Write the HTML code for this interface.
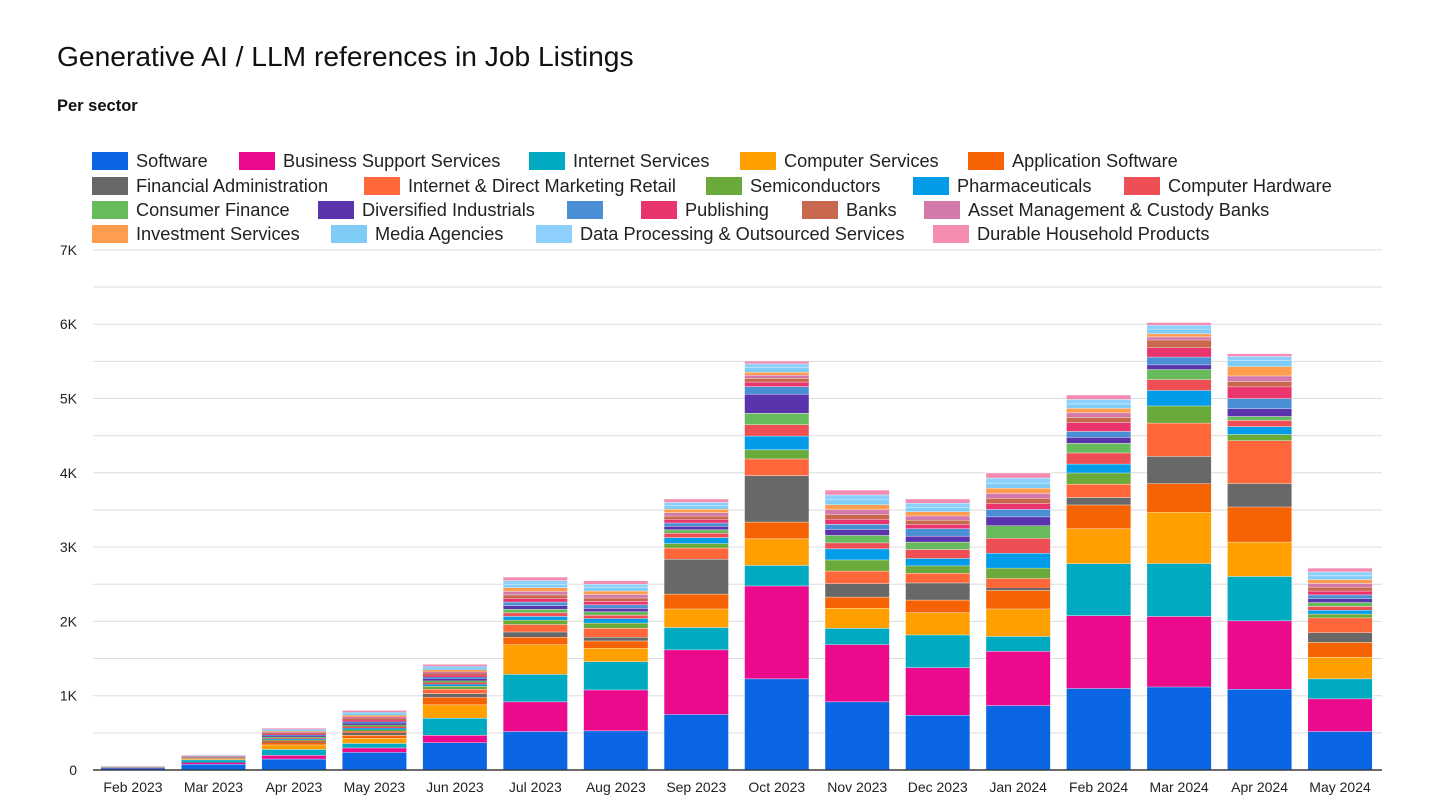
<!DOCTYPE html>
<html><head><meta charset="utf-8"><style>
body{margin:0;width:1440px;height:810px;background:#fff;font-family:"Liberation Sans",sans-serif;overflow:hidden}
svg{position:absolute;left:0;top:0}
</style></head><body>
<svg id="s" width="1440" height="810" xmlns="http://www.w3.org/2000/svg">
<text x="57" y="66" font-size="28.2" fill="#111" font-family="Liberation Sans, sans-serif">Generative AI / LLM references in Job Listings</text>
<text x="57" y="111" font-size="16.5" font-weight="bold" fill="#111" font-family="Liberation Sans, sans-serif">Per sector</text>
</svg>
<script>
const S=document.getElementById('s');const NS='http://www.w3.org/2000/svg';
function el(t,a,txt){const e=document.createElementNS(NS,t);for(const k in a)e.setAttribute(k,a[k]);if(txt!=null)e.textContent=txt;S.appendChild(e);return e;}
const names=["Software","Business Support Services","Internet Services","Computer Services","Application Software","Financial Administration","Internet & Direct Marketing Retail","Semiconductors","Pharmaceuticals","Computer Hardware","Consumer Finance","Diversified Industrials","","Publishing","Banks","Asset Management & Custody Banks","Investment Services","Media Agencies","Data Processing & Outsourced Services","Durable Household Products"];
const cols=["#0b66e4","#ec0a8c","#00abc2","#ff9f00","#f66304","#686868","#ff673a","#6aaa3a","#039ce8","#ee4f55","#68bb5c","#5a34ad","#4a8ed4","#e9346d","#c8684e","#d37aab","#ff9d4f","#7fcdf7","#8dd0fb","#f38cb0"];
const leg=[[92,161,0],[239,161,1],[529,161,2],[740,161,3],[968,161,4],
[92,186,5],[364,186,6],[706,186,7],[913,186,8],[1124,186,9],
[92,210,10],[318,210,11],[567,210,12],[641,210,13],[802,210,14],[924,210,15],
[92,234,16],[331,234,17],[536,234,18],[933,234,19]];
leg.forEach(([x,y,i])=>{el('rect',{x:x,y:y-9,width:36,height:18,fill:cols[i]});el('text',{x:x+44,y:y+6,'font-size':18.2,fill:'#222','font-family':'Liberation Sans, sans-serif'},names[i]);});
const y0=770,pk=74.3;
for(let v=0;v<=7;v+=0.5){const y=y0-v*pk;el('line',{x1:93,x2:1382,y1:y,y2:y,stroke:v==0?'#333':'#ddd','stroke-width':v==0?1.2:1});
 if(Number.isInteger(v))el('text',{x:77,y:y+5,'font-size':14,'text-anchor':'end',fill:'#222','font-family':'Liberation Sans, sans-serif'},v==0?'0':v+'K');}
const months=["Feb 2023","Mar 2023","Apr 2023","May 2023","Jun 2023","Jul 2023","Aug 2023","Sep 2023","Oct 2023","Nov 2023","Dec 2023","Jan 2024","Feb 2024","Mar 2024","Apr 2024","May 2024"];
const data=[
[0.05,[0.02,0.005,0.005]],
[0.2,[0.08,0.02,0.04,0.01]],
[0.56,[0.15,0.05,0.08,0.06,0.03]],
[0.8,[0.24,0.06,0.06,0.07,0.04,0.03]],
[1.42,[0.37,0.1,0.23,0.18,0.1,0.05,0.06,0.04]],
[2.6,[0.52,0.4,0.37,0.4,0.1,0.07,0.1,0.06,0.05]],
[2.55,[0.53,0.55,0.38,0.18,0.1,0.05,0.12,0.07,0.06]],
[3.65,[0.75,0.87,0.3,0.25,0.2,0.47,0.15,0.06,0.08,0.06]],
[5.5,[1.23,1.25,0.27,0.35,0.22,0.61,0.22,0.12,0.18,0.15,0.15,0.25,0.1,0.06,0.05,0.04,0.04,0.06,0.05,0.03]],
[3.77,[0.92,0.77,0.22,0.27,0.15,0.18,0.17,0.15,0.15,0.08,0.1,0.08,0.07]],
[3.65,[0.74,0.64,0.44,0.3,0.17,0.23,0.13,0.1,0.1,0.12,0.1,0.08,0.1]],
[4.0,[0.87,0.73,0.2,0.37,0.25,0.03,0.13,0.14,0.2,0.2,0.17,0.12,0.1,0.08]],
[5.05,[1.1,0.98,0.7,0.47,0.32,0.1,0.18,0.15,0.12,0.15,0.13,0.08,0.08,0.12,0.07]],
[6.02,[1.12,0.95,0.68,0.66,0.37,0.35,0.43,0.22,0.2,0.14,0.13,0.06,0.1,0.12,0.1,0.04,0.04,0.06,0.05,0.03]],
[5.6,[1.09,0.92,0.57,0.44,0.45,0.3,0.55,0.08,0.1,0.08,0.05,0.1,0.13,0.15,0.07,0.07,0.12,0.08,0.05,0.03]],
[2.72,[0.52,0.44,0.27,0.29,0.2,0.13,0.2]]];
data.forEach((d,b)=>{const cx=133+b*80.47,w=64;let vals=d[1].slice();let s=vals.reduce((a,c)=>a+c,0);
 if(vals.length==20){const k=(d[0]-vals.slice(0,2).reduce((a,c)=>a+c,0))/(s-vals.slice(0,2).reduce((a,c)=>a+c,0));vals=vals.map((v,i)=>i<2?v:v*k);}
 else{const n=20-vals.length;const rest=Math.max(0,d[0]-s);for(let i=0;i<n;i++)vals.push(rest/n);}
 let cum=0;vals.forEach((v,i)=>{const yb=y0-cum*pk,yt=y0-(cum+v)*pk;cum+=v;const h=yb-yt;if(h<=0)return;
  el('rect',{x:cx-w/2,y:yt,width:w,height:h,fill:cols[i]});
  if(h>2.5)el('line',{x1:cx-w/2,x2:cx+w/2,y1:yt,y2:yt,stroke:'#fff','stroke-width':1,opacity:0.85});});
 el('text',{x:cx,y:792,'font-size':14,'text-anchor':'middle',fill:'#222','font-family':'Liberation Sans, sans-serif'},months[b]);});
el('line',{x1:93,x2:1382,y1:770,y2:770,stroke:'#333','stroke-width':1.2});
</script>
</body></html>
